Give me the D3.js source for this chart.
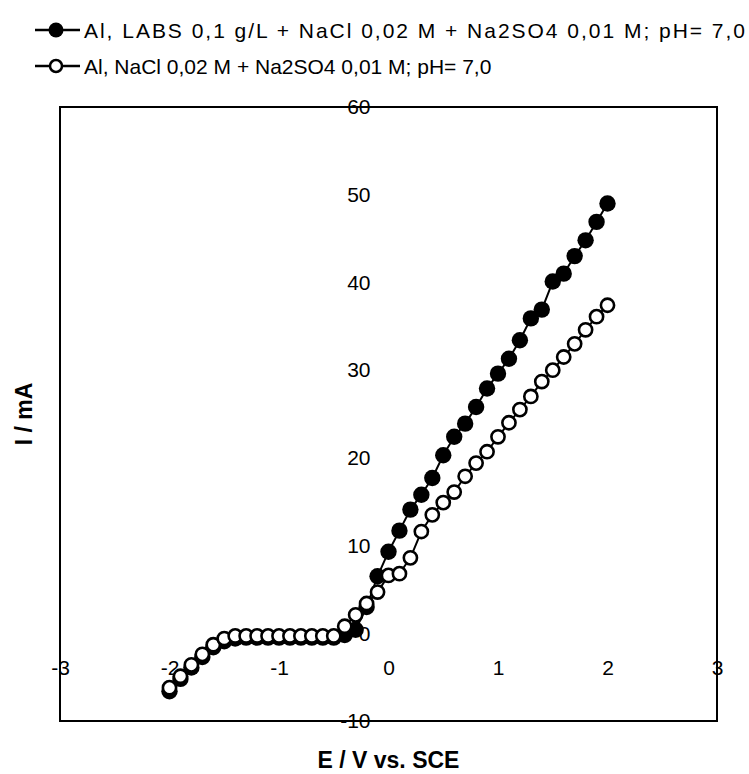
<!DOCTYPE html>
<html>
<head>
<meta charset="utf-8">
<script src="https://cdn.jsdelivr.net/npm/d3@7"></script>
<style>
  html, body { margin: 0; padding: 0; background: #fff; }
  svg { display: block; font-family: "Liberation Sans", Arial, Helvetica, sans-serif; }
</style>
</head>
<body>
<svg id="chart" width="749" height="774"></svg>
<script>
// ---- data ----
const potentials = [-2.0,-1.9,-1.8,-1.7,-1.6,-1.5,-1.4,-1.3,-1.2,-1.1,-1.0,-0.9,-0.8,-0.7,-0.6,-0.5,-0.4,-0.3,-0.2,-0.1,
  0.0,0.1,0.2,0.3,0.4,0.5,0.6,0.7,0.8,0.9,1.0,1.1,1.2,1.3,1.4,1.5,1.6,1.7,1.8,1.9,2.0];
const currentLABS = [-6.6,-5.2,-3.9,-2.7,-1.6,-0.9,-0.6,-0.5,-0.5,-0.5,-0.5,-0.5,-0.5,-0.5,-0.5,-0.5,-0.2,0.4,3.0,6.5,
  9.3,11.7,14.1,15.8,17.7,20.3,22.4,23.9,25.8,27.9,29.6,31.3,33.4,35.9,36.9,40.1,41.0,43.0,44.8,46.9,49.0];
const currentBlank = [-6.2,-4.9,-3.6,-2.4,-1.3,-0.6,-0.3,-0.3,-0.3,-0.3,-0.3,-0.3,-0.3,-0.3,-0.3,-0.3,0.8,2.1,3.4,4.7,
  6.6,6.8,8.6,11.6,13.5,14.9,16.1,17.9,19.4,20.7,22.4,24.0,25.5,27.0,28.7,30.0,31.5,33.0,34.6,36.1,37.4];
const seriesNames = [
  "Al, LABS 0,1 g/L + NaCl 0,02 M + Na2SO4 0,01 M; pH= 7,0",
  "Al, NaCl 0,02 M + Na2SO4 0,01 M; pH= 7,0"
];
const xTicks = [-3,-2,-1,0,1,2,3];
const yTicks = [-10,0,10,20,30,40,50,60];
const xTitle = "E / V vs. SCE";
const yTitle = "I / mA";

// ---- layout ----
const pLeft = 60, pRight = 717, pTop = 107, pBottom = 721;
const svg = d3.select("#chart");
const x = d3.scaleLinear().domain([-3, 3]).range([pLeft, pRight]);
const y = d3.scaleLinear().domain([-10, 60]).range([pBottom, pTop]);
const plainFmt = d => String(d);

// frame
svg.append("rect")
  .attr("x", pLeft).attr("y", pTop)
  .attr("width", pRight - pLeft).attr("height", pBottom - pTop)
  .attr("fill", "none").attr("stroke", "#000").attr("stroke-width", 2);

// y axis labels (at x = 0)
const yAxis = d3.axisLeft(y).tickValues(yTicks).tickSize(0).tickPadding(18).tickFormat(plainFmt);
const gy = svg.append("g").attr("transform", `translate(${x(0)},0)`).call(yAxis);
gy.select(".domain").remove();
gy.selectAll("text").attr("font-size", 21).attr("font-family", "Liberation Sans, Arial, sans-serif").attr("fill", "#000");

// x axis labels (at y = 0)
const xAxis = d3.axisBottom(x).tickValues(xTicks).tickSize(0).tickPadding(27).tickFormat(plainFmt);
const gx = svg.append("g").attr("transform", `translate(0,${y(0)})`).call(xAxis);
gx.select(".domain").remove();
gx.selectAll("text").attr("font-size", 21).attr("font-family", "Liberation Sans, Arial, sans-serif").attr("fill", "#000");

// axis titles
svg.append("text").attr("x", x(0)).attr("y", 768)
  .attr("text-anchor", "middle").attr("font-size", 23).attr("font-weight", "bold").text(xTitle);
svg.append("text").attr("transform", `translate(32,${(pTop + pBottom) / 2}) rotate(-90)`)
  .attr("text-anchor", "middle").attr("font-size", 23).attr("font-weight", "bold").text(yTitle);

// series
const dataLABS = potentials.map((e, i) => ({e, v: currentLABS[i]}));
const dataBlank = potentials.map((e, i) => ({e, v: currentBlank[i]}));
const line = d3.line().x(d => x(d.e)).y(d => y(d.v));

svg.append("path").datum(dataLABS).attr("d", line)
  .attr("fill", "none").attr("stroke", "#000").attr("stroke-width", 2);
svg.append("path").datum(dataBlank).attr("d", line)
  .attr("fill", "none").attr("stroke", "#000").attr("stroke-width", 2);

svg.append("g").selectAll("circle").data(dataLABS).join("circle")
  .attr("cx", d => x(d.e)).attr("cy", d => y(d.v)).attr("r", 8.2).attr("fill", "#000");
svg.append("g").selectAll("circle").data(dataBlank).join("circle")
  .attr("cx", d => x(d.e)).attr("cy", d => y(d.v)).attr("r", 6.6)
  .attr("fill", "#fff").attr("stroke", "#000").attr("stroke-width", 2.6);

// legend
const legY = [30, 66];
const legTextLen = [661, null];
const lg = svg.append("g");
seriesNames.forEach((name, i) => {
  const yy = legY[i];
  lg.append("line").attr("x1", 35).attr("x2", 80).attr("y1", yy).attr("y2", yy)
    .attr("stroke", "#000").attr("stroke-width", 2.5);
  if (i === 0) {
    lg.append("circle").attr("cx", 56).attr("cy", yy).attr("r", 7.5).attr("fill", "#000");
  } else {
    lg.append("circle").attr("cx", 56).attr("cy", yy).attr("r", 6).attr("fill", "#fff")
      .attr("stroke", "#000").attr("stroke-width", 2.5);
  }
  const t = lg.append("text").attr("x", 84).attr("y", yy + 7.5).attr("font-size", 21).text(name);
  if (legTextLen[i]) t.attr("textLength", legTextLen[i]).attr("lengthAdjust", "spacing");
});
</script>
</body>
</html>
